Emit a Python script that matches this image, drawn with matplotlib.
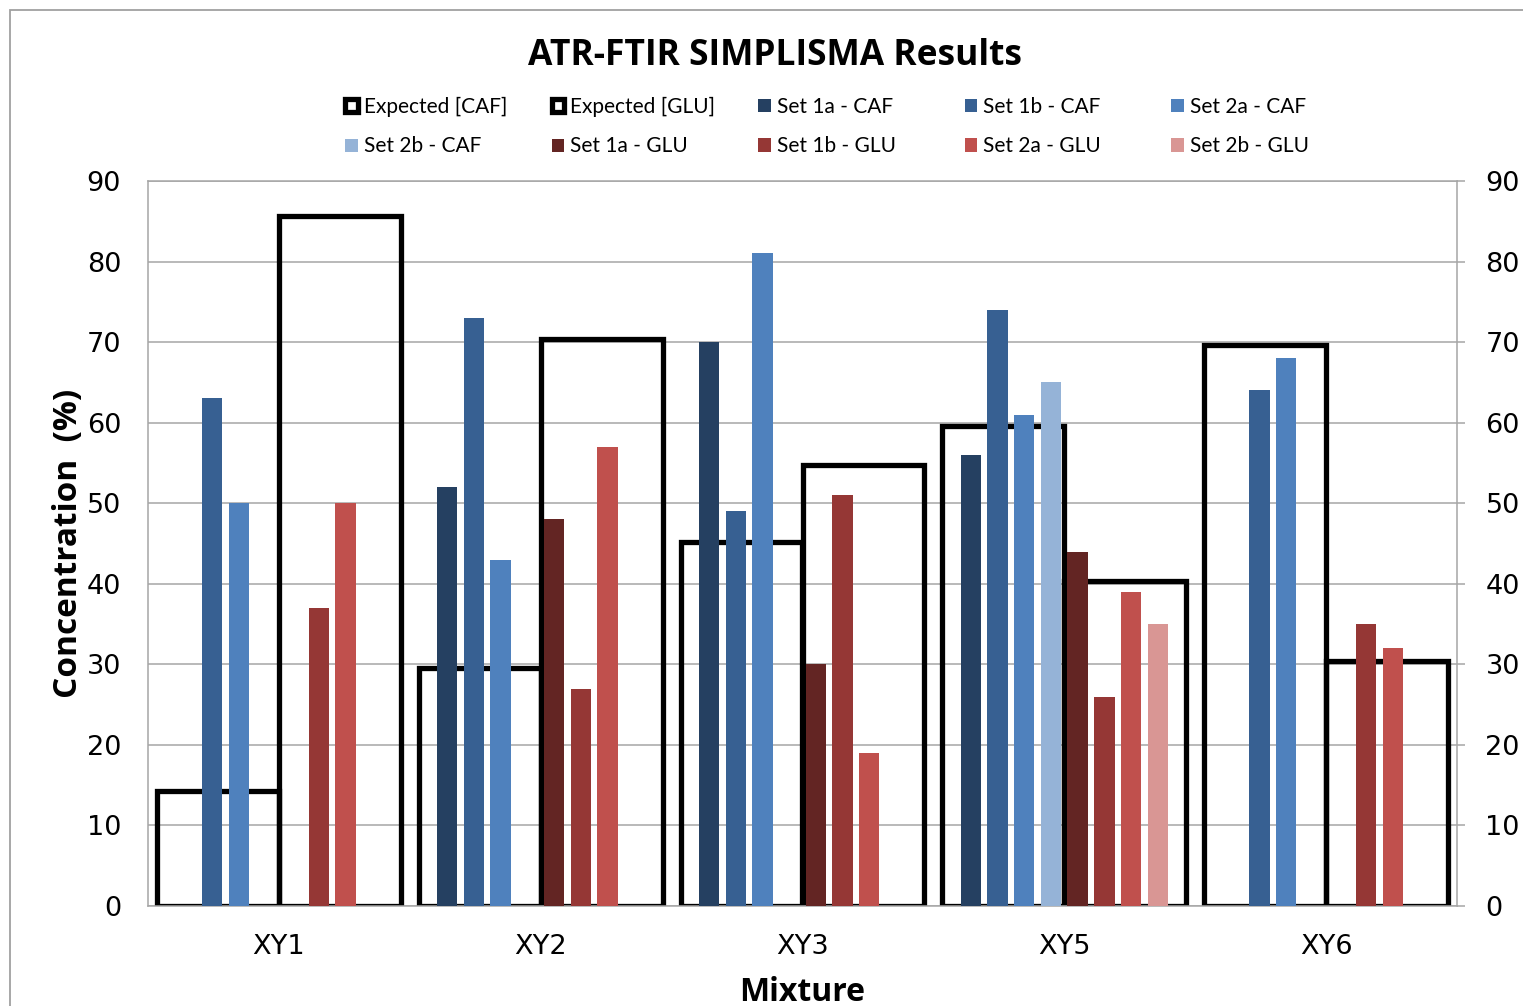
import numpy as np
import matplotlib
matplotlib.use("Agg")
import matplotlib.pyplot as plt
from matplotlib.patches import Rectangle
from matplotlib.transforms import ScaledTranslation

nan = np.nan

# data
categories = ["XY1", "XY2", "XY3", "XY5", "XY6"]
expected_caf = [14.3, 29.6, 45.2, 59.6, 69.6]
expected_glu = [85.7, 70.4, 54.8, 40.4, 30.4]

set1a_caf = [nan, 52, 70, 56, nan]
set1b_caf = [63, 73, 49, 74, 64]
set2a_caf = [50, 43, 81, 61, 68]
set2b_caf = [nan, nan, nan, 65, nan]
set1a_glu = [nan, 48, 30, 44, nan]
set1b_glu = [37, 27, 51, 26, 35]
set2a_glu = [50, 57, 19, 39, 32]
set2b_glu = [nan, nan, nan, 35, nan]

set_names = ["Set 1a - CAF", "Set 1b - CAF", "Set 2a - CAF", "Set 2b - CAF",
             "Set 1a - GLU", "Set 1b - GLU", "Set 2a - GLU", "Set 2b - GLU"]
set_values = [set1a_caf, set1b_caf, set2a_caf, set2b_caf,
              set1a_glu, set1b_glu, set2a_glu, set2b_glu]
set_colors = ["#254061", "#376092", "#4F81BD", "#95B3D7",
              "#632523", "#953735", "#C0504D", "#D99694"]

grid_gray = "#A6A6A6"

fig = plt.figure(figsize=(15.23, 10.06), dpi=100)
ax = fig.add_axes([148 / 1523, 100 / 1006, 1309 / 1523, 725 / 1006])

x = np.arange(len(categories))

# wide outline bars for the expected values
exp_w = 0.465
b_caf = ax.bar(x - 0.233, expected_caf, exp_w, facecolor="none",
               edgecolor="black", linewidth=3.8, zorder=2,
               label="Expected [CAF]")
b_glu = ax.bar(x + 0.233, expected_glu, exp_w, facecolor="none",
               edgecolor="black", linewidth=3.8, zorder=2,
               label="Expected [GLU]")

# narrow bars for each measurement set
slot = 0.102
bar_w = 0.078
set_bars = []
for i, (name, vals, col) in enumerate(zip(set_names, set_values, set_colors)):
    b = ax.bar(x + (i - 3.5) * slot, vals, bar_w, color=col, zorder=3,
               label=name)
    set_bars.append(b)

ax.set_xlim(-0.5, len(categories) - 0.5)
ax.set_ylim(0, 90)
ax.set_yticks(np.arange(0, 91, 10))
ax.set_xticks(x)
ax.set_xticklabels(categories)

ax.yaxis.grid(True, color=grid_gray, linewidth=1.1, zorder=0)
ax.set_axisbelow(True)
for s in ax.spines.values():
    s.set_color(grid_gray)
    s.set_linewidth(1.1)

ax.tick_params(axis="x", length=0, pad=20, labelsize=19.5)
ax.tick_params(axis="y", which="both", left=True, right=True,
               labelleft=True, labelright=True, labelsize=19.5,
               direction="out", length=6, width=1.1, color=grid_gray,
               pad=14.5)

# no tick marks on the left, labels a bit closer there
for t in ax.yaxis.get_major_ticks():
    t.tick1line.set_visible(False)
    t.label1.set_transform(t.label1.get_transform()
                           + ScaledTranslation(1.1 / 72, 0, fig.dpi_scale_trans))

ax.set_ylabel("Concentration  (%)", fontsize=24, fontweight="bold",
              family="Open Sans")
ax.yaxis.set_label_coords(-0.048, 0.5)
ax.set_xlabel("Mixture", fontsize=23, fontweight="bold", family="Open Sans")
ax.xaxis.set_label_coords(0.5, -0.096)

fig.text(775 / 1523, 1 - 56 / 1006, "ATR-FTIR SIMPLISMA Results",
         ha="center", va="center", fontsize=25.5, fontweight="bold",
         family="Open Sans")

# legend: 5 equally spaced columns, 2 rows
handles = [b_caf, b_glu] + set_bars
labels = ["Expected [CAF]", "Expected [GLU]"] + set_names
for j in range(5):
    hs = [handles[j], handles[j + 5]]
    ls = [labels[j], labels[j + 5]]
    fig.legend(hs, ls, loc="center left",
               bbox_to_anchor=((345 + 206.5 * j) / 1523, 1 - 126.5 / 1006),
               frameon=False, borderpad=0, borderaxespad=0,
               handlelength=0.6, handleheight=0.6, handletextpad=0.3,
               labelspacing=0.95, prop={"family": "Lato", "size": 15})

# chart area border
fig.patches.append(Rectangle((10 / 1523, -0.1), 1.2, 1 - 10 / 1006 + 0.1,
                             transform=fig.transFigure, fill=False,
                             edgecolor="#A0A0A0", linewidth=1.3))

fig.savefig("out.png", dpi=100)
